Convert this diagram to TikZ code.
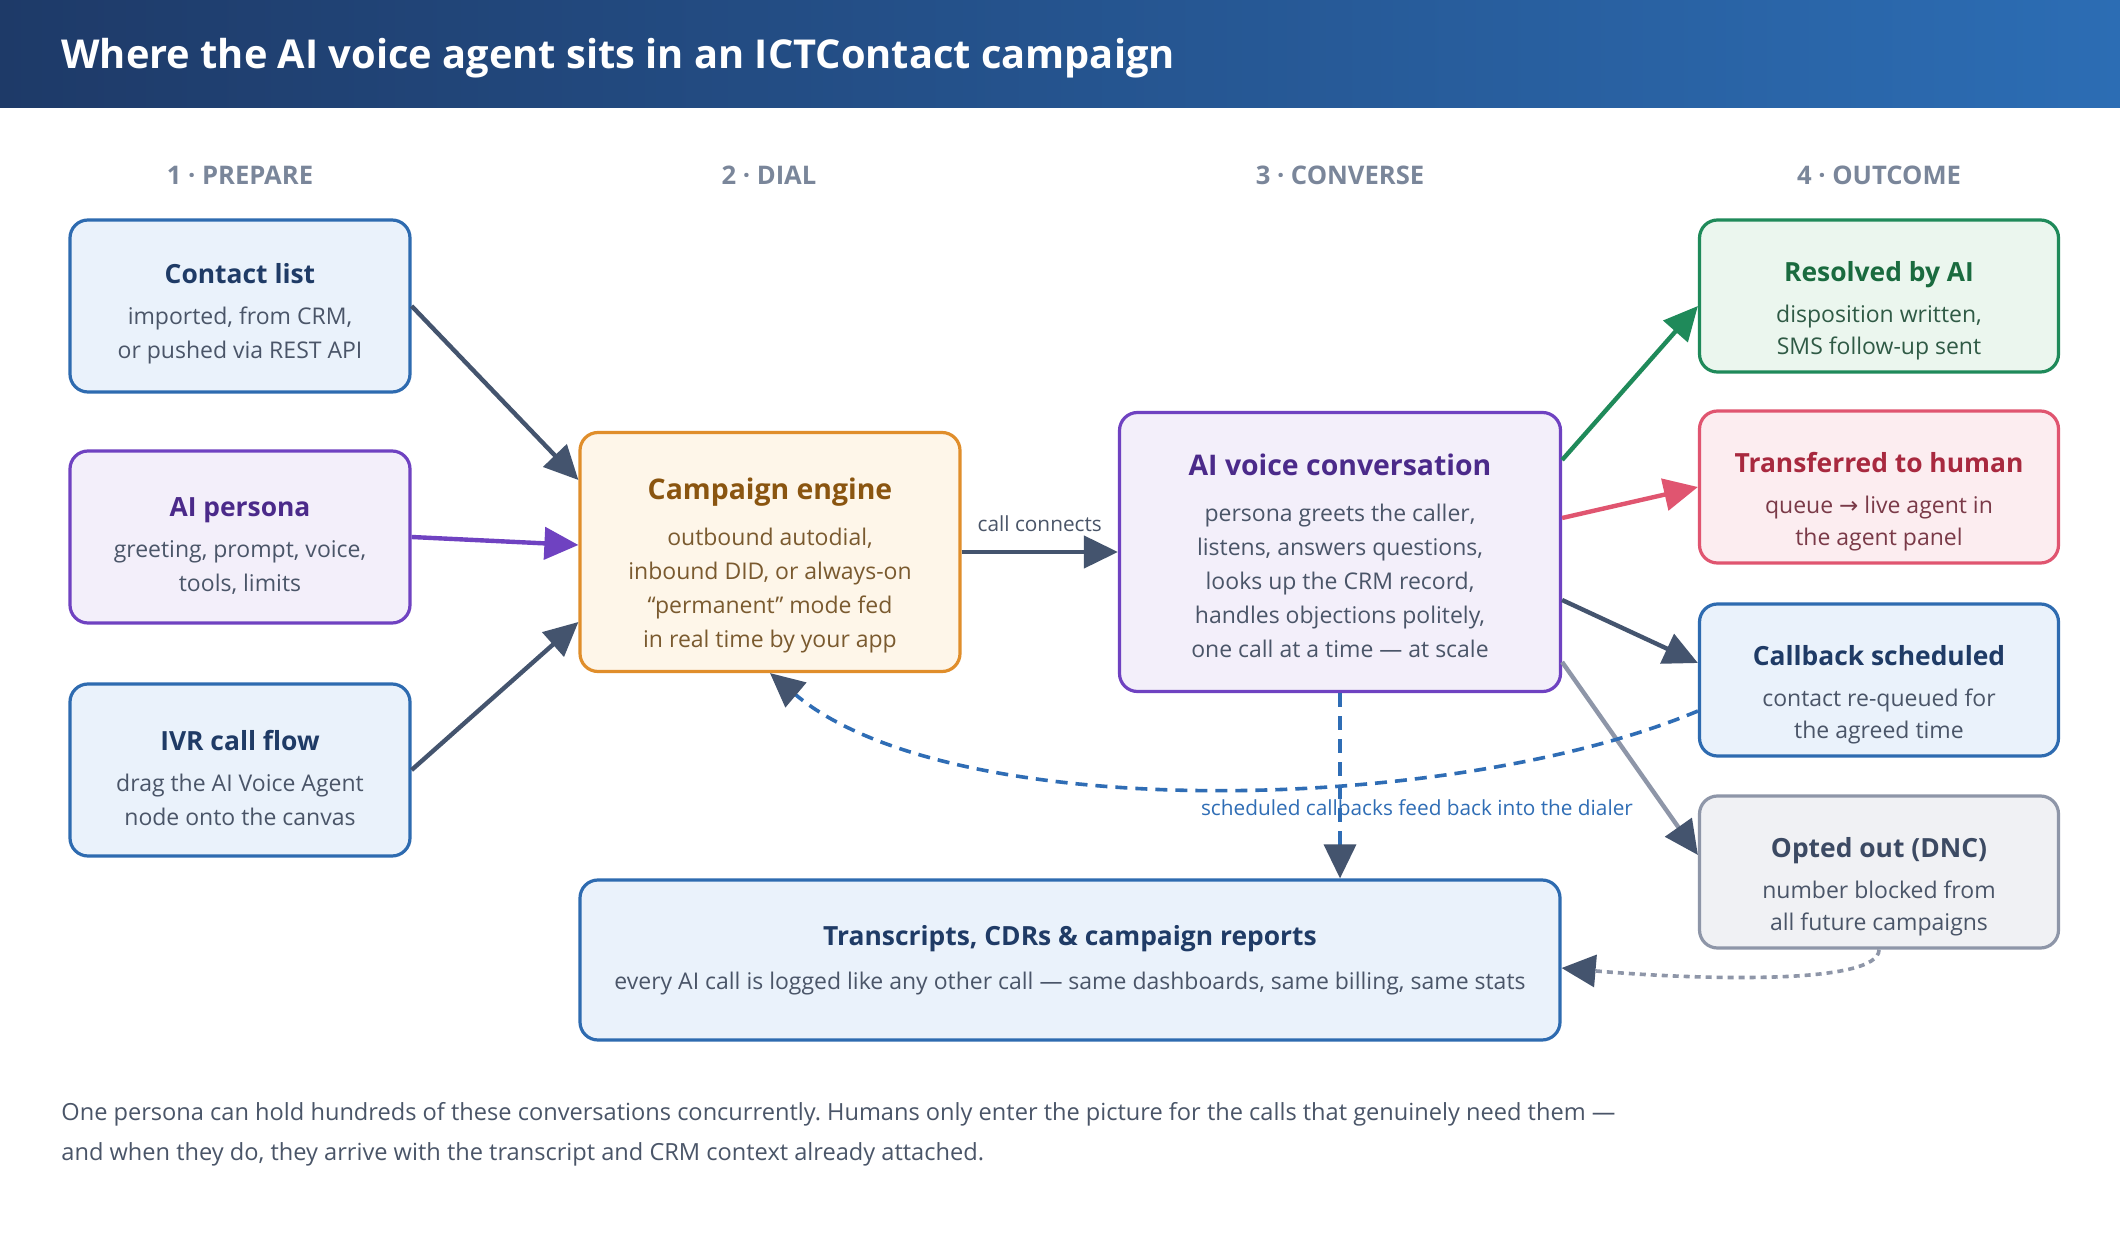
\documentclass[tikz,border=0pt]{standalone}
\usepackage{fontspec}
\setmainfont{Open Sans}
\newfontfamily\symfont{DejaVu Sans}
\usetikzlibrary{arrows.meta}
\frenchspacing

\definecolor{hdrL}{HTML}{1E3A68}
\definecolor{hdrR}{HTML}{2C6DB4}
\definecolor{colgray}{HTML}{7A869A}
\definecolor{slate}{HTML}{4A5568}
\definecolor{arrowdark}{HTML}{44546E}
\definecolor{bluedge}{HTML}{2E6BB0}
\definecolor{bluefill}{HTML}{EAF2FB}
\definecolor{bluetitle}{HTML}{1F3B66}
\definecolor{purpedge}{HTML}{6F42C1}
\definecolor{purpfill}{HTML}{F3EFFA}
\definecolor{purptitle}{HTML}{4B2A8A}
\definecolor{orgedge}{HTML}{E08E2B}
\definecolor{orgfill}{HTML}{FEF6E9}
\definecolor{orgtitle}{HTML}{8A5510}
\definecolor{orgtext}{HTML}{7A5A2F}
\definecolor{grnedge}{HTML}{1F8A5A}
\definecolor{grnfill}{HTML}{EBF6EE}
\definecolor{grntitle}{HTML}{1A6B3F}
\definecolor{grntext}{HTML}{2F5A45}
\definecolor{rededge}{HTML}{E05570}
\definecolor{redfill}{HTML}{FCEDF0}
\definecolor{redtitle}{HTML}{A8293F}
\definecolor{redtext}{HTML}{7A3A48}
\definecolor{gryedge}{HTML}{8E96A8}
\definecolor{gryfill}{HTML}{F0F1F4}
\definecolor{grytitle}{HTML}{3C4A63}
\definecolor{loopblue}{HTML}{2F6DB5}

% title line of a card: #1 = strut height (pushes the text down), #2 = colour
\newcommand\hd[3]{\rule{0pt}{#1}{\color{#2}\fontsize{13.2}{17}\selectfont\bfseries #3}}
\newcommand\hdbig[3]{\rule{0pt}{#1}{\color{#2}\fontsize{14.2}{17}\selectfont\bfseries #3}}

\begin{document}
\begin{tikzpicture}[x=0.5pt,y=-0.5pt]
\tikzset{card/.style={draw, rounded corners=9pt, line width=1.6pt, align=center, inner sep=0pt, font=\fontsize{11.5}{17}\selectfont, text=slate},
  bluecard/.style={card, draw=bluedge, fill=bluefill},
  outcard/.style={card, minimum width=179.5pt, minimum height=76pt, font=\fontsize{11.5}{16.2}\selectfont},
  colhead/.style={font=\fontsize{12.8}{14}\selectfont\bfseries, text=colgray},
  link/.style={line width=2.2pt, draw=arrowdark, -{Triangle[length=17pt,width=16pt,color=arrowdark]}},
  loop/.style={line width=1.8pt, draw=loopblue, dash pattern=on 6pt off 4pt, -{Triangle[length=17pt,width=16pt,color=arrowdark]}}}
\useasboundingbox (0,0) rectangle (2120,1240);
\fill[white] (0,0) rectangle (2120,1240);
\fill[left color=hdrL, right color=hdrR] (0,0) rectangle (2120,108);
\node[anchor=west, inner sep=0pt, text=white, font=\fontsize{19.9}{22}\selectfont\bfseries] (title) at (61,58) {Where the AI voice agent sits in an ICTContact campaign};

% column heads
\node[colhead] (h1) at (240,175) {1 · PREPARE};
\node[colhead] (h2) at (769,175) {2 · DIAL};
\node[colhead] (h3) at (1340,175) {3 · CONVERSE};
\node[colhead] (h4) at (1879,175) {4 · OUTCOME};

% prepare
\node[bluecard, minimum width=170pt, minimum height=86pt] (contact) at (240,306) {\hd{18pt}{bluetitle}{Contact list}\\[3.5pt] imported, from CRM,\\ or pushed via REST API};
\node[card, draw=purpedge, fill=purpfill, minimum width=170pt, minimum height=86pt] (persona) at (240,537) {\hd{18pt}{purptitle}{AI persona}\\[3.5pt] greeting, prompt, voice,\\ tools, limits};
\node[bluecard, minimum width=170pt, minimum height=86pt] (ivr) at (240,770) {\hd{18pt}{bluetitle}{IVR call flow}\\[3.5pt] drag the AI Voice Agent\\ node onto the canvas};

% dial + converse
\node[card, draw=orgedge, fill=orgfill, text=orgtext, minimum width=190pt, minimum height=119.5pt] (engine) at (770,552) {\hdbig{24pt}{orgtitle}{Campaign engine}\\[6pt] outbound autodial,\\ inbound DID, or always-on\\ “permanent” mode fed\\ in real time by your app};
\node[card, draw=purpedge, fill=purpfill, minimum width=220.5pt, minimum height=139.5pt] (convo) at (1340,552) {\hdbig{15pt}{purptitle}{AI voice conversation}\\[6pt] persona greets the caller,\\ listens, answers questions,\\ looks up the CRM record,\\ handles objections politely,\\ one call at a time — at scale};

% outcomes
\node[outcard, draw=grnedge, fill=grnfill, text=grntext] (resolved) at (1879,296) {\hd{25pt}{grntitle}{Resolved by AI}\\[4pt] disposition written,\\ SMS follow-up sent};
\node[outcard, draw=rededge, fill=redfill, text=redtext] (transfer) at (1879,487) {\hd{25pt}{redtitle}{Transferred to human}\\[4pt] queue {\symfont →} live agent in\\ the agent panel};
\node[outcard, draw=bluedge, fill=bluefill] (callback) at (1879,680) {\hd{25pt}{bluetitle}{Callback scheduled}\\[4pt] contact re-queued for\\ the agreed time};
\node[outcard, draw=gryedge, fill=gryfill] (optout) at (1879,872) {\hd{25pt}{grytitle}{Opted out (DNC)}\\[4pt] number blocked from\\ all future campaigns};

\node[bluecard, minimum width=490pt, minimum height=80pt] (reports) at (1070,960) {\hd{0pt}{bluetitle}{Transcripts, CDRs \& campaign reports}\\[5pt] every AI call is logged like any other call — same dashboards, same billing, same stats};

% inputs
\draw[link] (contact.east) -- ([yshift=36pt]engine.west);
\draw[link, draw=purpedge, -{Triangle[length=17pt,width=16pt,color=purpedge]}] (persona.east) -- ([yshift=3.5pt]engine.west);
\draw[link] (ivr.east) -- ([yshift=-35pt]engine.west);
\draw[link] (engine.east) -- node[above=5.5pt, font=\fontsize{10.4}{12}\selectfont, text=slate] {call connects} (convo.west);

% outcomes
\draw[link, draw=grnedge, -{Triangle[length=17pt,width=16pt,color=grnedge]}] ([yshift=46pt]convo.east) -- ([yshift=-5pt]resolved.west);
\draw[link, draw=rededge, -{Triangle[length=17pt,width=16pt,color=rededge]}] ([yshift=17pt]convo.east) -- (transfer.west);
\draw[link] ([yshift=-24pt]convo.east) -- ([yshift=8.5pt]callback.west);
\draw[link, draw=gryedge] ([yshift=-55pt]convo.east) -- ([yshift=8.5pt]optout.west);

% logging and loops
\draw[loop, dash pattern=on 7pt off 4.5pt] (convo.south) -- (convo.south |- reports.north);
\draw[loop] ([yshift=-15.5pt]callback.west) .. controls (1450,815) and (950,825) .. (engine.south);
\node[font=\fontsize{10.4}{12}\selectfont, text=loopblue] (looplbl) at (1417,808) {scheduled callbacks feed back into the dialer};
\draw[loop, draw=gryedge, dash pattern=on 3pt off 2.5pt] (optout.south) .. controls (1879,985) and (1700,980) .. ([yshift=-4pt]reports.east);

% footnote
\node[anchor=west, align=left, inner sep=0pt, text=slate, font=\fontsize{11.8}{20}\selectfont] (note) at (61,1134) {One persona can hold hundreds of these conversations concurrently. Humans only enter the picture for the calls that genuinely need them —\\ and when they do, they arrive with the transcript and CRM context already attached.};
\end{tikzpicture}
\end{document}
